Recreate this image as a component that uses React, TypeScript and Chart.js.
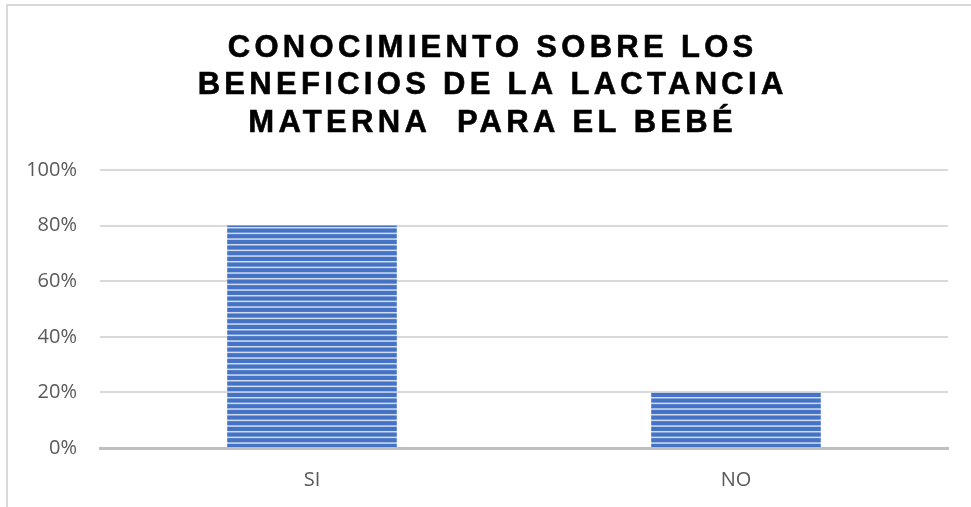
import React, { useEffect, useRef } from "react";
import { Chart, registerables } from "chart.js";

Chart.register(...registerables);

const categories = ["SI", "NO"];
const values = [80, 20];
const yTicks = [0, 20, 40, 60, 80, 100];
const titleLines = ["CONOCIMIENTO SOBRE LOS", "BENEFICIOS DE LA LACTANCIA", "MATERNA  PARA EL BEBÉ"];

function makePattern(): CanvasPattern | string {
  const c = document.createElement("canvas");
  c.width = 4;
  c.height = 17;
  const g = c.getContext("2d");
  if (!g) return "#4472c4";
  g.fillStyle = "#4472c4";
  g.fillRect(0, 0, 4, 17);
  g.fillStyle = "#d3dcef";
  const period = 17 / 3;
  for (let i = 0; i < 3; i++) {
    g.fillRect(0, i * period + 0.3, 4, 1.5);
  }
  const p = g.createPattern(c, "repeat");
  return p || "#4472c4";
}

const titlePlugin = {
  id: "spacedTitle",
  afterDraw(chart: any) {
    const ctx = chart.ctx as CanvasRenderingContext2D;
    ctx.save();
    ctx.fillStyle = "#000000";
    ctx.strokeStyle = "#000000";
    ctx.lineWidth = 0.6;
    ctx.font = 'bold 31px "Liberation Sans", Arial, sans-serif';
    const sp = 4.3;
    (ctx as any).letterSpacing = sp + "px";
    ctx.textAlign = "center";
    ctx.textBaseline = "alphabetic";
    const cx = 490.5 + sp / 2;
    const baselines = [56.5, 94, 131.5];
    titleLines.forEach((t, i) => {
      ctx.fillText(t, cx, baselines[i]);
      ctx.strokeText(t, cx, baselines[i]);
    });
    ctx.restore();
  },
};

export default function App() {
  const ref = useRef<HTMLCanvasElement | null>(null);
  useEffect(() => {
    if (!ref.current) return;
    const pattern = makePattern();
    const tickFont = { family: "'Open Sans', sans-serif", size: 20 };
    const chart = new Chart(ref.current, {
      type: "bar",
      data: {
        labels: categories,
        datasets: [
          {
            data: values,
            backgroundColor: pattern as any,
            borderWidth: 0,
            barPercentage: 0.4,
            categoryPercentage: 1,
          },
        ],
      },
      options: {
        animation: false,
        responsive: false,
        maintainAspectRatio: false,
        layout: { padding: { top: 170, right: 23, left: 0, bottom: 0 } },
        plugins: { legend: { display: false }, title: { display: false }, tooltip: { enabled: false } },
        scales: {
          x: {
            z: 1,
            grid: { display: false, drawTicks: false },
            border: { display: true, color: "#bfbfbf", width: 3 },
            ticks: {
              color: "#595959",
              font: tickFont,
              padding: 20,
            },
            afterFit(scale: any) {
              scale.height = 59;
            },
          },
          y: {
            min: 0,
            max: 100,
            afterBuildTicks(scale: any) {
              scale.ticks = yTicks.map((v) => ({ value: v }));
            },
            grid: {
              drawTicks: false,
              color: (c: any) => (c.tick && c.tick.value === 0 ? "rgba(0,0,0,0)" : "#d9d9d9"),
              lineWidth: 2,
            },
            border: { display: false },
            ticks: {
              color: "#595959",
              font: tickFont,
              padding: 23,
              callback: (v: any) => v + "%",
            },
            afterFit(scale: any) {
              scale.width = 100;
            },
          },
        },
      },
      plugins: [titlePlugin],
    });
    return () => chart.destroy();
  }, []);

  return (
    <div style={{ position: "fixed", left: 0, top: 0, width: 971, height: 507, overflow: "hidden", background: "#fff" }}>
      <div
        style={{
          position: "absolute",
          left: 6,
          top: 4,
          width: 1100,
          height: 700,
          border: "2px solid #d9d9d9",
          boxSizing: "border-box",
        }}
      />
      <canvas ref={ref} width={971} height={507} style={{ position: "absolute", left: 0, top: 0, width: 971, height: 507 }} />
    </div>
  );
}
